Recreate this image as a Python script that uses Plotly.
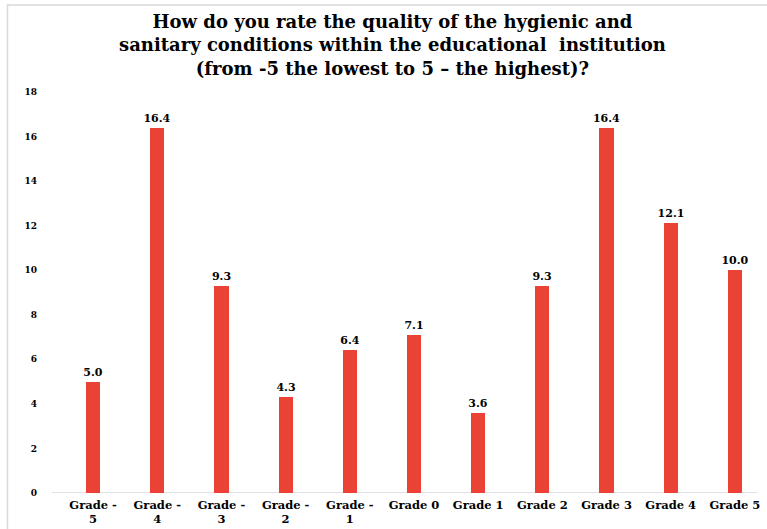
import plotly.graph_objects as go

# Survey answers, share of respondents (%)
grades = ["Grade -<br>5", "Grade -<br>4", "Grade -<br>3", "Grade -<br>2", "Grade -<br>1",
          "Grade 0", "Grade 1", "Grade 2", "Grade 3", "Grade 4", "Grade 5"]
shares = [5.0, 16.4, 9.3, 4.3, 6.4, 7.1, 3.6, 9.3, 16.4, 12.1, 10.0]
y_ticks = [0, 2, 4, 6, 8, 10, 12, 14, 16, 18]

title_text = ("How do you rate the quality of the hygienic and<br>"
              "sanitary conditions within the educational  institution<br>"
              "(from -5 the lowest to 5 \u2013 the highest)?")

FONT = "DejaVu Serif"
BAR_RED = "#EA4335"

fig = go.Figure(
    go.Bar(
        x=grades,
        y=shares,
        width=0.22,
        marker=dict(color=BAR_RED, line=dict(width=0)),
        text=[f"<b>{v:.1f}</b>" for v in shares],
        textposition="outside",
        constraintext="none",
        textfont=dict(family=FONT, size=11, color="#000000"),
        cliponaxis=False,
    )
)

fig.update_layout(
    width=767,
    height=529,
    margin=dict(l=52, r=9, t=92, b=36, autoexpand=False),
    paper_bgcolor="white",
    plot_bgcolor="white",
    showlegend=False,
    bargap=0,
    xaxis=dict(
        type="category",
        range=[-0.64, 10.36],
        automargin=False,
        showgrid=False,
        showline=False,
        zeroline=False,
        ticks="",
        ticklabelstandoff=3,
        tickfont=dict(family=FONT, size=11.5, color="#000000"),
        tickprefix="<b>",
        ticksuffix="</b>",
    ),
    yaxis=dict(
        range=[0, 18],
        automargin=False,
        tickvals=y_ticks,
        ticktext=[f"<b>{t}</b>" for t in y_ticks],
        showgrid=False,
        zeroline=False,
        showline=False,
        ticks="",
        ticklabelstandoff=14,
        tickfont=dict(family=FONT, size=9, color="#000000"),
    ),
    annotations=[
        dict(
            text=f"<b>{title_text}</b>",
            xref="paper", yref="paper",
            x=0.482, y=1.207,
            xanchor="center", yanchor="top",
            align="center",
            showarrow=False,
            font=dict(family=FONT, size=18, color="#000000"),
        )
    ],
    shapes=[
        # baseline along zero
        dict(type="line", xref="paper", yref="y", x0=0, x1=1, y0=0, y1=0,
             line=dict(color="#D9D9D9", width=1.5), layer="below"),
        # chart frame
        dict(type="rect", xref="paper", yref="paper",
             x0=-0.063, x1=1.2, y0=-0.5, y1=1.217,
             line=dict(color="#D9D9D9", width=1.5), layer="below"),
    ],
)

fig.write_html("out.html")
